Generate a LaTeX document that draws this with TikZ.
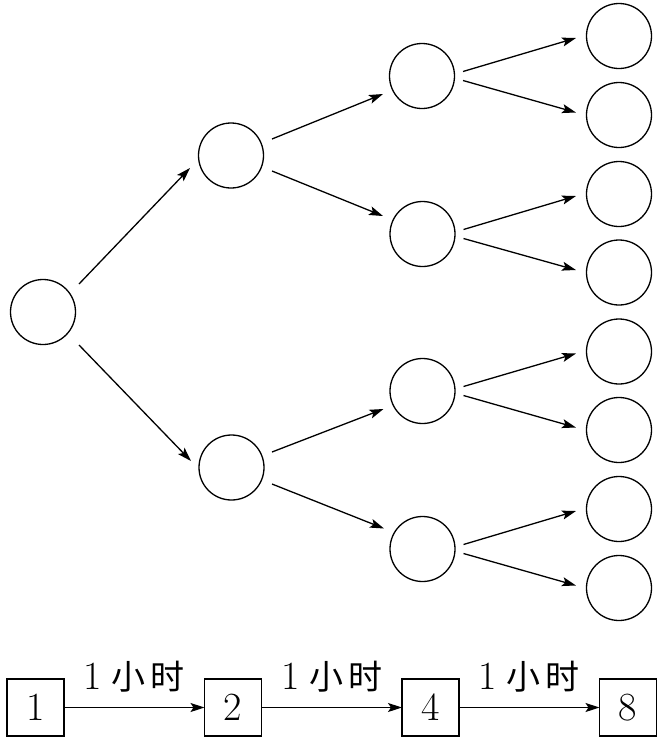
\documentclass[tikz,border=0pt]{standalone}
\usepackage{fontspec}
\newfontfamily\cjk{Noto Sans CJK SC}
\usetikzlibrary{arrows.meta,calc}
\begin{document}
\begin{tikzpicture}[x=1pt,y=-1pt,
  nd/.style={circle,draw,line width=1.3pt,minimum size=65pt,inner sep=0pt,outer sep=0pt},
  bx/.style={rectangle,draw,line width=1.3pt,minimum size=57pt,inner sep=0pt,outer sep=0pt,font=\fontsize{40}{48}\selectfont},
  arr/.style={line width=1.3pt,-{Stealth[length=14pt,width=9pt,inset=3pt]}},
  lbl/.style={inner sep=0pt,font=\fontsize{40}{48}\selectfont}]
\useasboundingbox (0,0) rectangle (662,748);
% tree
\node[nd] (r) at (43,312) {};
\node[nd] (a1) at (231,155.5) {};
\node[nd] (a2) at (231.5,467.5) {};
\node[nd] (b1) at (422,76) {};
\node[nd] (b2) at (422.5,234) {};
\node[nd] (b3) at (422.5,391) {};
\node[nd] (b4) at (422.5,549) {};
\node[nd] (c1) at (619,36) {};
\node[nd] (c2) at (619,115) {};
\node[nd] (c3) at (619,194) {};
\node[nd] (c4) at (619,272.5) {};
\node[nd] (c5) at (619,351.5) {};
\node[nd] (c6) at (619,430) {};
\node[nd] (c7) at (619,509) {};
\node[nd] (c8) at (619,588) {};
\draw[arr] ($(r)+(36,-28)$) -- ($(a1)+(-41,12.5)$);
\draw[arr] ($(r)+(36,33)$) -- ($(a2)+(-40.5,-6.5)$);
\draw[arr] ($(a1)+(41,-16.5)$) -- ($(b1)+(-39,18)$);
\draw[arr] ($(a1)+(41,15.5)$) -- ($(b2)+(-39.5,-18)$);
\draw[arr] ($(a2)+(40.5,-15.5)$) -- ($(b3)+(-39,18)$);
\draw[arr] ($(a2)+(40.5,16.5)$) -- ($(b4)+(-38.5,-20.5)$);
\draw[arr] ($(b1)+(41,-4.5)$) -- ($(c1)+(-43,2)$);
\draw[arr] ($(b1)+(41,4.5)$) -- ($(c2)+(-43,-2.5)$);
\draw[arr] ($(b2)+(41,-4.5)$) -- ($(c3)+(-43,2)$);
\draw[arr] ($(b2)+(41,4.5)$) -- ($(c4)+(-43,-2.5)$);
\draw[arr] ($(b3)+(41,-4.5)$) -- ($(c5)+(-43,2)$);
\draw[arr] ($(b3)+(41,4.5)$) -- ($(c6)+(-43,-2.5)$);
\draw[arr] ($(b4)+(41,-4.5)$) -- ($(c7)+(-43,2)$);
\draw[arr] ($(b4)+(41,4.5)$) -- ($(c8)+(-43,-2.5)$);
% bottom chain
\node[bx] (n1) at (35.5,707.5) {1};
\node[bx] (n2) at (233,707.5) {2};
\node[bx] (n4) at (430.5,707.5) {4};
\node[bx] (n8) at (628,707.5) {8};
\draw[arr] (n1) -- (n2);
\draw[arr] (n2) -- (n4);
\draw[arr] (n4) -- (n8);
\node[lbl] (l1) at (134,677) {1\hspace{9pt}{\cjk\fontsize{34}{40}\selectfont 小\hspace{5pt}时}};
\node[lbl] (l2) at (332,677) {1\hspace{9pt}{\cjk\fontsize{34}{40}\selectfont 小\hspace{5pt}时}};
\node[lbl] (l3) at (529,677) {1\hspace{9pt}{\cjk\fontsize{34}{40}\selectfont 小\hspace{5pt}时}};
\end{tikzpicture}
\end{document}
